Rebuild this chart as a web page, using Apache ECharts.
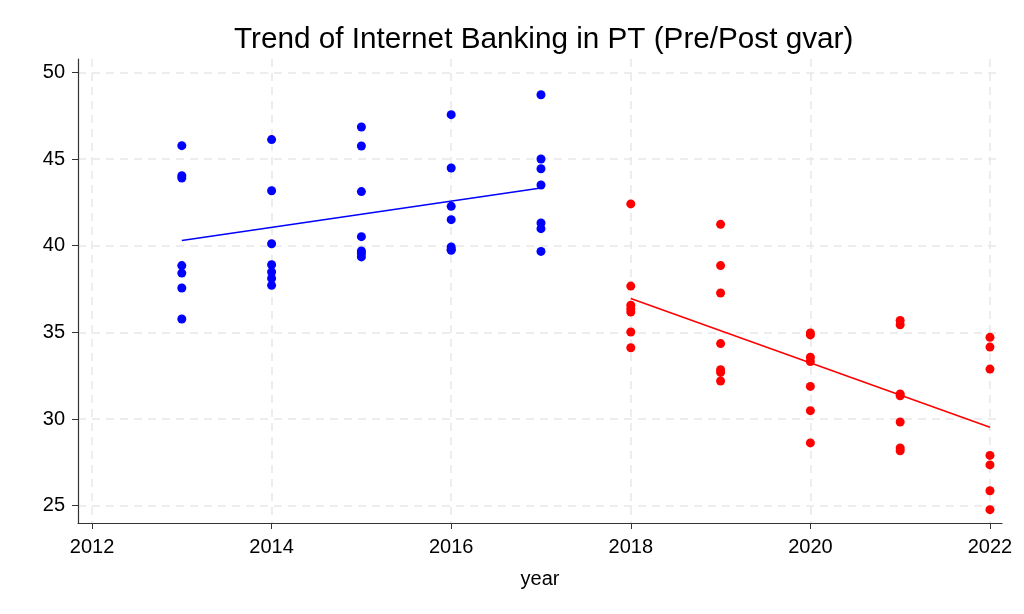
<!DOCTYPE html>
<html><head><meta charset="utf-8">
<script src="https://cdn.jsdelivr.net/npm/echarts@6/dist/echarts.min.js"></script>
<style>html,body{margin:0;padding:0;background:#fff}#c{width:1024px;height:614px}</style>
</head><body><div id="c"></div>
<script>
var title = 'Trend of Internet Banking in PT (Pre/Post gvar)';
var xTicks = [2012, 2014, 2016, 2018, 2020, 2022];
var yTicks = [25, 30, 35, 40, 45, 50];
var preYears = [2013, 2014, 2015, 2016, 2017];
var preValues = [
  [45.77, 44.04, 43.9, 38.85, 38.42, 37.56, 35.77],
  [46.12, 43.17, 40.11, 38.9, 38.48, 38.11, 37.71],
  [46.85, 45.75, 43.12, 40.52, 39.69, 39.55, 39.35],
  [47.56, 44.48, 42.27, 41.5, 39.93, 39.8, 39.73],
  [48.71, 45.0, 44.44, 43.5, 41.31, 40.98, 39.67]
];
var postYears = [2018, 2019, 2020, 2021, 2022];
var postValues = [
  [42.41, 37.67, 36.56, 36.35, 36.17, 35.02, 34.11],
  [41.23, 38.85, 37.27, 34.35, 32.84, 32.69, 32.19],
  [34.96, 34.85, 33.56, 33.32, 31.88, 30.48, 28.62],
  [35.69, 35.44, 31.44, 31.34, 29.83, 28.33, 28.17],
  [34.71, 34.15, 32.88, 27.9, 27.35, 25.86, 24.77]
];
var preFit = [[2013, 40.3], [2017, 43.33]];
var postFit = [[2018, 36.95], [2022, 29.52]];

function pts(years, vals) {
  var out = [];
  years.forEach(function (y, i) { vals[i].forEach(function (v) { out.push([y, v]); }); });
  return out;
}
var font = 'Liberation Sans, Arial, Helvetica, sans-serif';
var chart = echarts.init(document.getElementById('c'));
chart.setOption({
  backgroundColor: '#fff',
  animation: false,
  title: { text: title, left: 229, top: 20, textStyle: { fontFamily: font, fontWeight: 'normal', fontSize: 29.7, color: '#000' } },
  grid: { left: 78, right: 22, top: 59, bottom: 91, containLabel: false },
  xAxis: {
    type: 'value', min: 2011.844, max: 2022.134,
    name: 'year', nameLocation: 'middle', nameGap: 46,
    nameTextStyle: { fontFamily: font, fontSize: 20, color: '#000' },
    axisLine: { show: true, lineStyle: { color: '#333', width: 1.2 } },
    axisTick: { show: true, length: 6, customValues: xTicks, lineStyle: { color: '#333' } },
    axisLabel: { customValues: xTicks, formatter: function (v) { return String(v); }, fontFamily: font, fontSize: 20, color: '#000', margin: 14 },
    splitLine: { show: true, lineStyle: { type: [8, 6], color: '#e8e8e8', width: 1.5 } }
  },
  yAxis: {
    type: 'value', min: 24.0, max: 50.77,
    axisLine: { show: true, lineStyle: { color: '#333', width: 1.2 } },
    axisTick: { show: true, length: 6, customValues: yTicks, lineStyle: { color: '#333' } },
    axisLabel: { customValues: yTicks, formatter: function (v) { return String(v); }, fontFamily: font, fontSize: 20, color: '#000', margin: 13 },
    splitLine: { show: true, lineStyle: { type: [8, 6], color: '#e8e8e8', width: 1.5 } }
  },
  series: [
    { type: 'scatter', data: pts(preYears, preValues), symbolSize: 9, itemStyle: { color: '#0000ff', opacity: 1 } },
    { type: 'scatter', data: pts(postYears, postValues), symbolSize: 9, itemStyle: { color: '#ff0000', opacity: 1 } },
    { type: 'line', data: preFit, symbol: 'none', lineStyle: { color: '#0000ff', width: 1.6 } },
    { type: 'line', data: postFit, symbol: 'none', lineStyle: { color: '#ff0000', width: 1.6 } }
  ]
});
</script></body></html>
